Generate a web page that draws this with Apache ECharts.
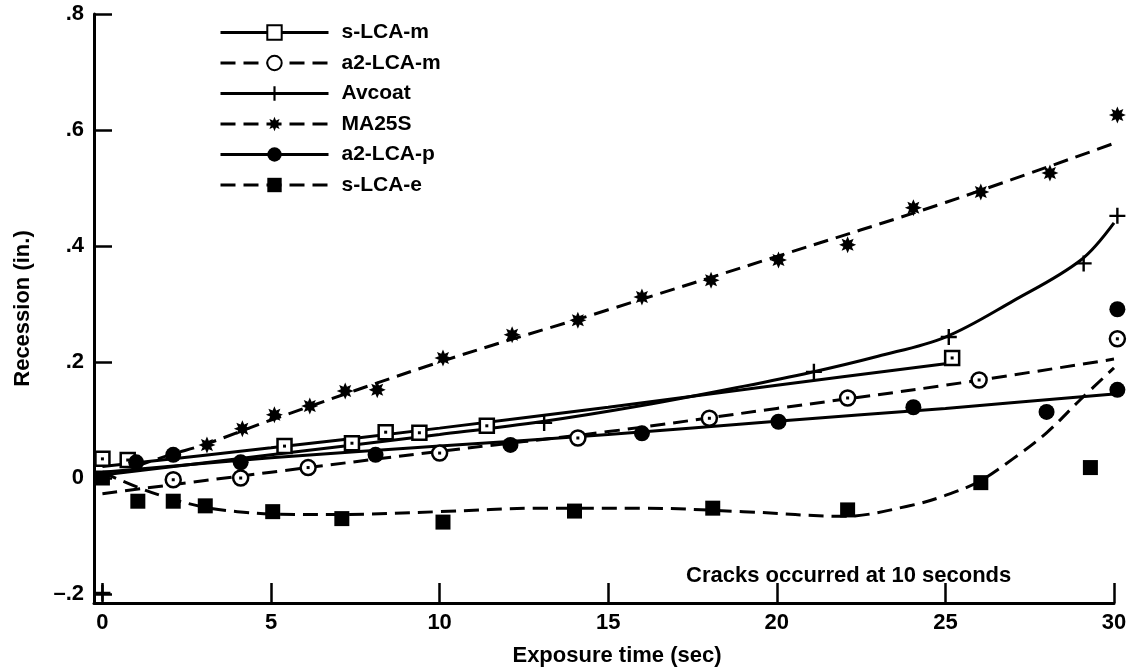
<!DOCTYPE html>
<html><head><meta charset="utf-8">
<script src="https://cdn.jsdelivr.net/npm/echarts@6/dist/echarts.min.js"></script>
<style>html,body{margin:0;padding:0;background:#fff}#c{width:1133px;height:672px}</style>
</head><body><div id="c"></div>
<script>
// ---- axis ticks ----
const xTicks = [0, 5, 10, 15, 20, 25, 30];
const yTicks = [-0.2, 0, 0.2, 0.4, 0.6, 0.8];
const seriesNames = ['s-LCA-m', 'a2-LCA-m', 'Avcoat', 'MA25S', 'a2-LCA-p', 's-LCA-e'];
const annotation = 'Cracks occurred at 10 seconds';

// ---- measured points [time s, recession in.] ----
const sLCAmPts = [[0, 0.033], [0.75, 0.031], [5.4, 0.055], [7.4, 0.06], [8.4, 0.079], [9.4, 0.078], [11.4, 0.09], [25.2, 0.207]];
const a2LCAmPts = [[2.1, -0.003], [4.1, 0.0], [6.1, 0.018], [10.0, 0.043], [14.1, 0.069], [18.0, 0.103], [22.1, 0.138], [26.0, 0.169], [30.1, 0.24]];
const avcoatPts = [[0, -0.198], [13.1, 0.095], [21.1, 0.183], [25.1, 0.243], [29.1, 0.37], [30.1, 0.452]];
const ma25sPts = [[3.1, 0.057], [4.15, 0.085], [5.1, 0.109], [6.15, 0.124], [7.2, 0.15], [8.15, 0.152], [10.1, 0.207], [12.15, 0.247], [14.1, 0.272], [16.0, 0.312], [18.05, 0.341], [20.05, 0.376], [22.1, 0.402], [24.05, 0.466], [26.05, 0.493], [28.1, 0.526], [30.1, 0.626]];
const a2LCApPts = [[1.0, 0.027], [2.1, 0.04], [4.1, 0.027], [8.1, 0.04], [12.1, 0.057], [16.0, 0.077], [20.05, 0.097], [24.05, 0.122], [28.0, 0.114], [30.1, 0.152], [30.1, 0.291]];
const sLCAePts = [[0, 0.0], [1.05, -0.04], [2.1, -0.04], [3.05, -0.048], [5.05, -0.058], [7.1, -0.07], [10.1, -0.076], [14.0, -0.057], [18.1, -0.052], [22.1, -0.055], [26.05, -0.008], [29.3, 0.018]];

// ---- fitted curves ----
const sLCAmFit = [[0, 0.02], [5, 0.052], [10, 0.086], [15, 0.122], [20, 0.16], [25, 0.197]];
const a2LCAmFit = [[0, -0.027], [5, 0.01], [10, 0.046], [15, 0.08], [20, 0.12], [25, 0.16], [30, 0.205]];
const avcoatFit = [[0, 0.005], [5, 0.04], [10, 0.075], [13, 0.097], [16, 0.125], [19, 0.158], [21, 0.182], [23, 0.21], [25, 0.243], [27, 0.305], [29, 0.375], [30, 0.44]];
const ma25sFit = [[1, 0.02], [2, 0.04], [3, 0.057], [5, 0.1], [10, 0.2], [15, 0.29], [20, 0.382], [25, 0.475], [30, 0.577]];
const a2LCApFit = [[0, 0.01], [5, 0.035], [10, 0.055], [15, 0.075], [20, 0.098], [25, 0.12], [30, 0.145]];
const sLCAeFit = [[0, 0.01], [1, -0.015], [2, -0.035], [3, -0.05], [4, -0.058], [5, -0.062], [7, -0.063], [10, -0.058], [13, -0.052], [16, -0.052], [19, -0.058], [22, -0.066], [24, -0.047], [25, -0.03], [26, -0.006], [27, 0.033], [28, 0.078], [29, 0.135], [30, 0.19]];

const FONT = 'Liberation Sans';
const PLUS = 'path://M8.5,0H11.5V8.5H20V11.5H11.5V20H8.5V11.5H0V8.5H8.5Z';
const STAR = 'path://M20,10L15,12.1L17.07,17.07L12.1,15L10,20L7.9,15L2.93,17.07L5,12.1L0,10L5,7.9L2.93,2.93L7.9,5L10,0L12.1,5L17.07,2.93L15,7.9Z';
const DASH = [15, 8];
const LW = 3;

const defs = [
  {name: seriesNames[0], fit: sLCAmFit, pts: sLCAmPts, dash: 'solid', legendSym: 'emptyRect', sym: 'rect', open: true, size: 14},
  {name: seriesNames[1], fit: a2LCAmFit, pts: a2LCAmPts, dash: DASH, legendSym: 'emptyCircle', sym: 'circle', open: true, size: 15},
  {name: seriesNames[2], fit: avcoatFit, pts: avcoatPts, dash: 'solid', legendSym: PLUS, sym: PLUS, open: false, size: 16},
  {name: seriesNames[3], fit: ma25sFit, pts: ma25sPts, dash: DASH, legendSym: STAR, sym: STAR, open: false, size: 17},
  {name: seriesNames[4], fit: a2LCApFit, pts: a2LCApPts, dash: 'solid', legendSym: 'circle', sym: 'circle', open: false, size: 16},
  {name: seriesNames[5], fit: sLCAeFit, pts: sLCAePts, dash: DASH, legendSym: 'rect', sym: 'rect', open: false, size: 15}
];

const series = [];
defs.forEach(d => {
  series.push({
    name: d.name, type: 'line', data: d.fit, smooth: 0.35, showSymbol: false,
    symbol: d.legendSym, symbolSize: 14, silent: true,
    lineStyle: {color: '#000', width: LW, type: d.dash}, itemStyle: {color: '#000', opacity: 1}, z: 2
  });
});
defs.forEach(d => {
  if (d.open) {
    series.push({name: d.name, type: 'scatter', data: d.pts, symbol: d.sym, symbolSize: d.size, clip: false,
      itemStyle: {color: '#fff', borderColor: '#000', borderWidth: 2.5, opacity: 1}, z: 3});
    series.push({name: d.name, type: 'scatter', data: d.pts, symbol: 'rect', symbolSize: 3, clip: false,
      itemStyle: {color: '#000', opacity: 1}, z: 4});
  } else {
    series.push({name: d.name, type: 'scatter', data: d.pts, symbol: d.sym, symbolSize: d.size, clip: false,
      itemStyle: {color: '#000', opacity: 1}, z: 3});
  }
});

const chart = echarts.init(document.getElementById('c'), null, {renderer: 'canvas'});
chart.setOption({
  animation: false,
  backgroundColor: '#fff',
  grid: {left: 94, right: 19, top: 14, bottom: 69, containLabel: false},
  legend: {
    data: seriesNames, orient: 'vertical', left: 214, top: 17,
    itemWidth: 108, itemHeight: 18, itemGap: 9.5,
    lineStyle: {width: LW},
    textStyle: {fontFamily: FONT, fontWeight: 'bold', fontSize: 21, color: '#000', padding: [0, 0, 0, 8]},
    selectedMode: false
  },
  xAxis: {
    type: 'value', min: -0.25, max: 30,
    name: 'Exposure time (sec)', nameLocation: 'middle', nameGap: 42,
    nameTextStyle: {fontFamily: FONT, fontWeight: 'bold', fontSize: 22, color: '#000', padding: [0, 0, 0, 26]},
    axisLine: {onZero: false, lineStyle: {color: '#000', width: LW}},
    axisTick: {inside: true, length: 20, customValues: xTicks, lineStyle: {color: '#000', width: 2.5}},
    axisLabel: {customValues: xTicks, margin: 9, fontFamily: FONT, fontWeight: 'bold', fontSize: 22, color: '#000'},
    splitLine: {show: false}
  },
  yAxis: {
    type: 'value', min: -0.2155, max: 0.8,
    name: 'Recession (in.)', nameLocation: 'middle', nameGap: 60,
    nameTextStyle: {fontFamily: FONT, fontWeight: 'bold', fontSize: 22, color: '#000'},
    axisLine: {show: true, onZero: false, lineStyle: {color: '#000', width: LW}},
    axisTick: {show: true, inside: true, length: 18, customValues: yTicks, lineStyle: {color: '#000', width: 2.5}},
    axisLabel: {customValues: yTicks, margin: 10, fontFamily: FONT, fontWeight: 'bold', fontSize: 22, color: '#000',
      formatter: v => { if (Math.abs(v) < 1e-9) return '0'; const s = '.' + Math.round(Math.abs(v) * 10); return v < 0 ? '\u2013' + s : s; }},
    splitLine: {show: false}
  },
  graphic: [{
    type: 'text', left: 686, top: 565,
    style: {text: annotation, fontFamily: FONT, fontWeight: 'bold', fontSize: 22, fill: '#000'}
  }],
  series: series
});
</script>
</body></html>
